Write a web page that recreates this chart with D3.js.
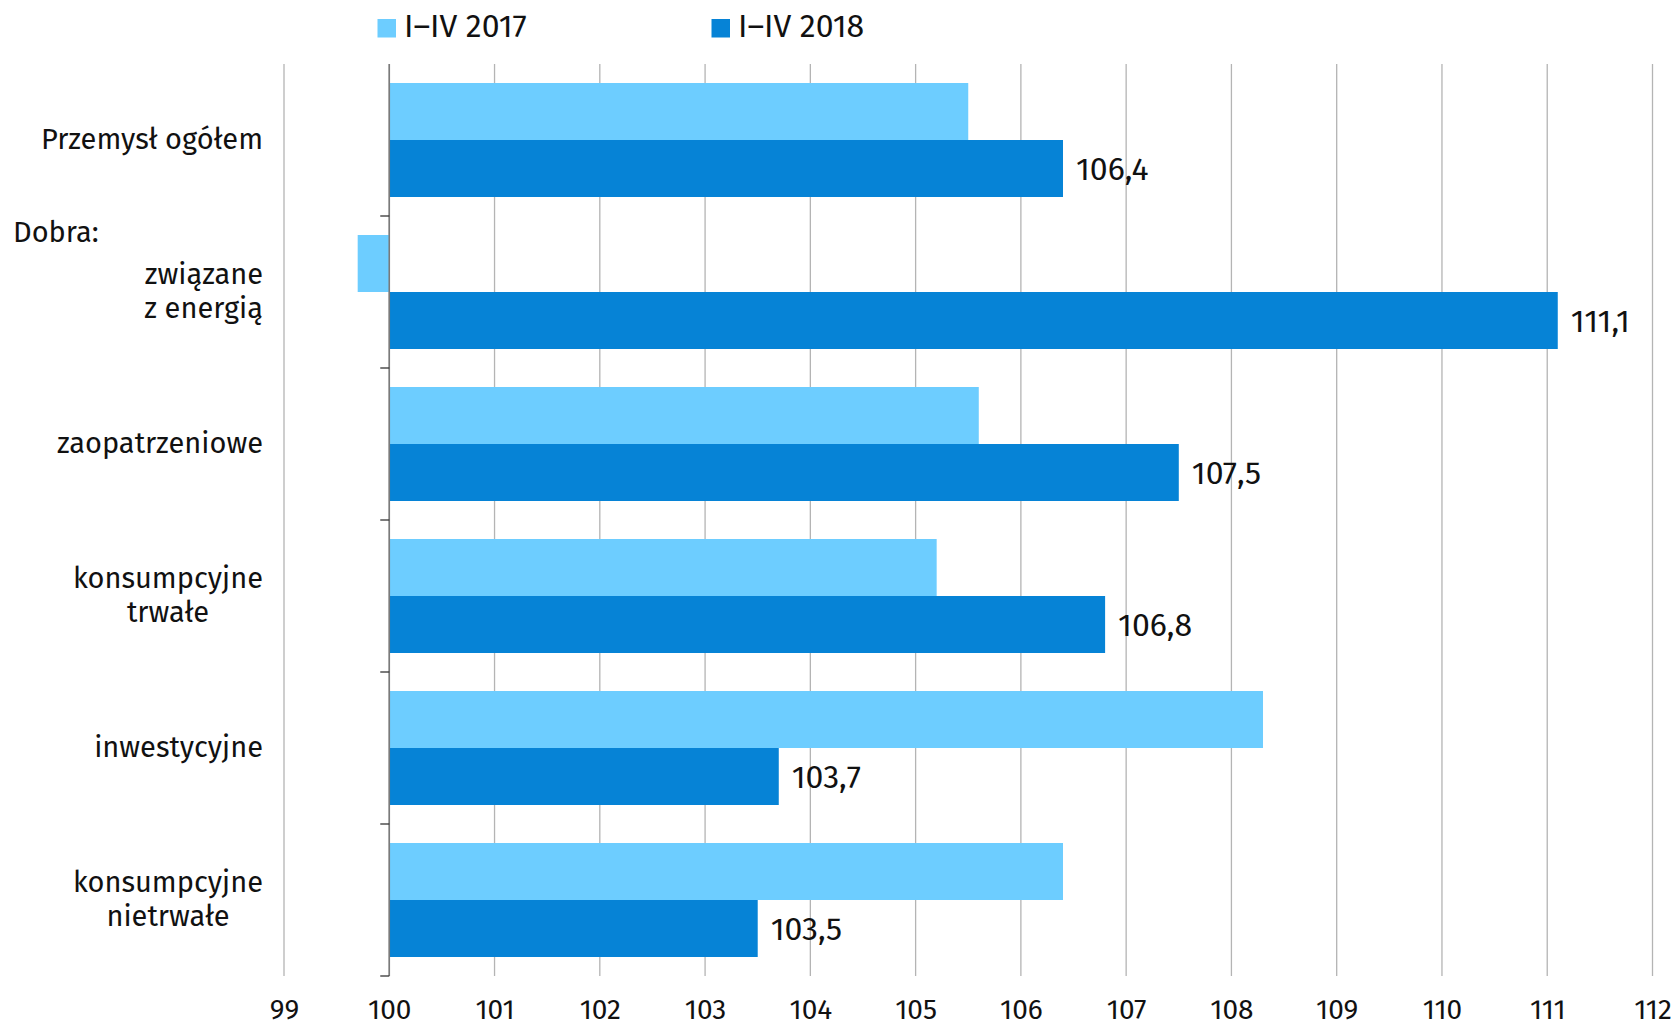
<!DOCTYPE html>
<html>
<head>
<meta charset="utf-8">
<script src="https://cdn.jsdelivr.net/npm/d3@7"></script>
<style>
  html, body { margin: 0; padding: 0; background: #ffffff; }
  svg { display: block; }
  text { font-family: "Fira Sans", "Open Sans", "Noto Sans", sans-serif; fill: #111; }
</style>
</head>
<body>
<svg id="chart" width="1678" height="1028"></svg>
<script>
// ---- data ----
const categories = ["Przemysł ogółem", "związane z energią", "zaopatrzeniowe", "konsumpcyjne trwałe", "inwestycyjne", "konsumpcyjne nietrwałe"];
const categoryLines = [["Przemysł ogółem"], ["związane", "z energią"], ["zaopatrzeniowe"], ["konsumpcyjne", "trwałe"], ["inwestycyjne"], ["konsumpcyjne", "nietrwałe"]];
const seriesNames = ["I–IV 2017", "I–IV 2018"];
const values2017 = [105.5, 99.7, 105.6, 105.2, 108.3, 106.4];
const values2018 = [106.4, 111.1, 107.5, 106.8, 103.7, 103.5];
const tickValues = [99, 100, 101, 102, 103, 104, 105, 106, 107, 108, 109, 110, 111, 112];
const groupLabel = "Dobra:";
const baseValue = 100;

// ---- layout ----
const svg = d3.select("#chart");
const colors = ["#6dcdff", "#0683d6"];
const plotTop = 64, plotBottom = 976;
const x = d3.scaleLinear().domain([99, 112]).range([284, 1652.5]);
const y = d3.scaleBand().domain(categories).range([plotTop, plotBottom]).paddingInner(0).paddingOuter(0);
const ySub = d3.scaleBand().domain(seriesNames).range([0, y.bandwidth()]).paddingInner(0).paddingOuter(0.3333);
const fmt = v => d3.format(".1f")(v).replace(".", ",");
const fontSize = 29;

// gridlines
svg.append("g").selectAll("line").data(tickValues).join("line")
  .attr("x1", d => x(d)).attr("x2", d => x(d))
  .attr("y1", plotTop).attr("y2", plotBottom)
  .attr("stroke", "#b4b4b4").attr("stroke-width", 1.3);

// x tick labels via axis
const xAxis = d3.axisBottom(x).tickValues(tickValues).tickSize(0).tickPadding(0).tickFormat(d => d);
const gx = svg.append("g").attr("transform", `translate(0,${plotBottom})`).call(xAxis);
gx.select(".domain").remove();
gx.selectAll("text").attr("dy", null).attr("y", 43)
  .style("font-family", '"Fira Sans", "Open Sans", "Noto Sans", sans-serif')
  .style("font-size", "28px").attr("fill", "#111");

// bars
const series = [values2017, values2018];
series.forEach((vals, si) => {
  svg.append("g").selectAll("rect").data(categories).join("rect")
    .attr("x", (c, i) => x(Math.min(baseValue, vals[i])))
    .attr("width", (c, i) => Math.abs(x(vals[i]) - x(baseValue)))
    .attr("y", c => y(c) + ySub(seriesNames[si]))
    .attr("height", ySub.bandwidth())
    .attr("fill", colors[si]);
});

// value labels for 2018
svg.append("g").selectAll("text").data(categories).join("text")
  .attr("x", (c, i) => x(values2018[i]) + 13)
  .attr("y", c => y(c) + ySub(seriesNames[1]) + ySub.bandwidth() / 2 + 11.5)
  .style("font-size", "32px")
  .text((c, i) => fmt(values2018[i]));

// axis line at 100 with band ticks
svg.append("line")
  .attr("x1", x(baseValue)).attr("x2", x(baseValue))
  .attr("y1", plotTop).attr("y2", plotBottom)
  .attr("stroke", "#7a7a7a").attr("stroke-width", 1.6);
const boundaries = categories.slice(1).map(c => y(c)).concat([plotBottom]);
svg.append("g").selectAll("line").data(boundaries).join("line")
  .attr("x1", x(baseValue) - 9).attr("x2", x(baseValue))
  .attr("y1", d => d).attr("y2", d => d)
  .attr("stroke", "#333").attr("stroke-width", 1.3);

// category labels
const labelRight = 263;
const lineH = 34;
categories.forEach((c, i) => {
  const lines = categoryLines[i];
  const cy = y(c) + y.bandwidth() / 2;
  const g = svg.append("g");
  const t = g.selectAll("text").data(lines).join("text")
    .style("font-size", fontSize + "px")
    .attr("y", (d, k) => cy + 9 + (k - (lines.length - 1) / 2) * lineH)
    .text(d => d);
  if (lines.length === 1 || i === 1) {
    t.attr("x", labelRight).attr("text-anchor", "end");
  } else {
    const widths = t.nodes().map(n => n.getComputedTextLength());
    const maxW = d3.max(widths);
    t.attr("x", labelRight - maxW / 2).attr("text-anchor", "middle");
  }
});
svg.append("text").attr("x", 13).attr("y", 242).style("font-size", fontSize + "px").text(groupLabel);

// legend
const legendX = [377.5, 711.5];
seriesNames.forEach((s, si) => {
  svg.append("rect").attr("x", legendX[si]).attr("y", 19).attr("width", 18.5).attr("height", 18.5).attr("fill", colors[si]);
  svg.append("text").attr("x", legendX[si] + 26.5).attr("y", 37).style("font-size", "32px").text(s);
});
</script>
</body>
</html>
